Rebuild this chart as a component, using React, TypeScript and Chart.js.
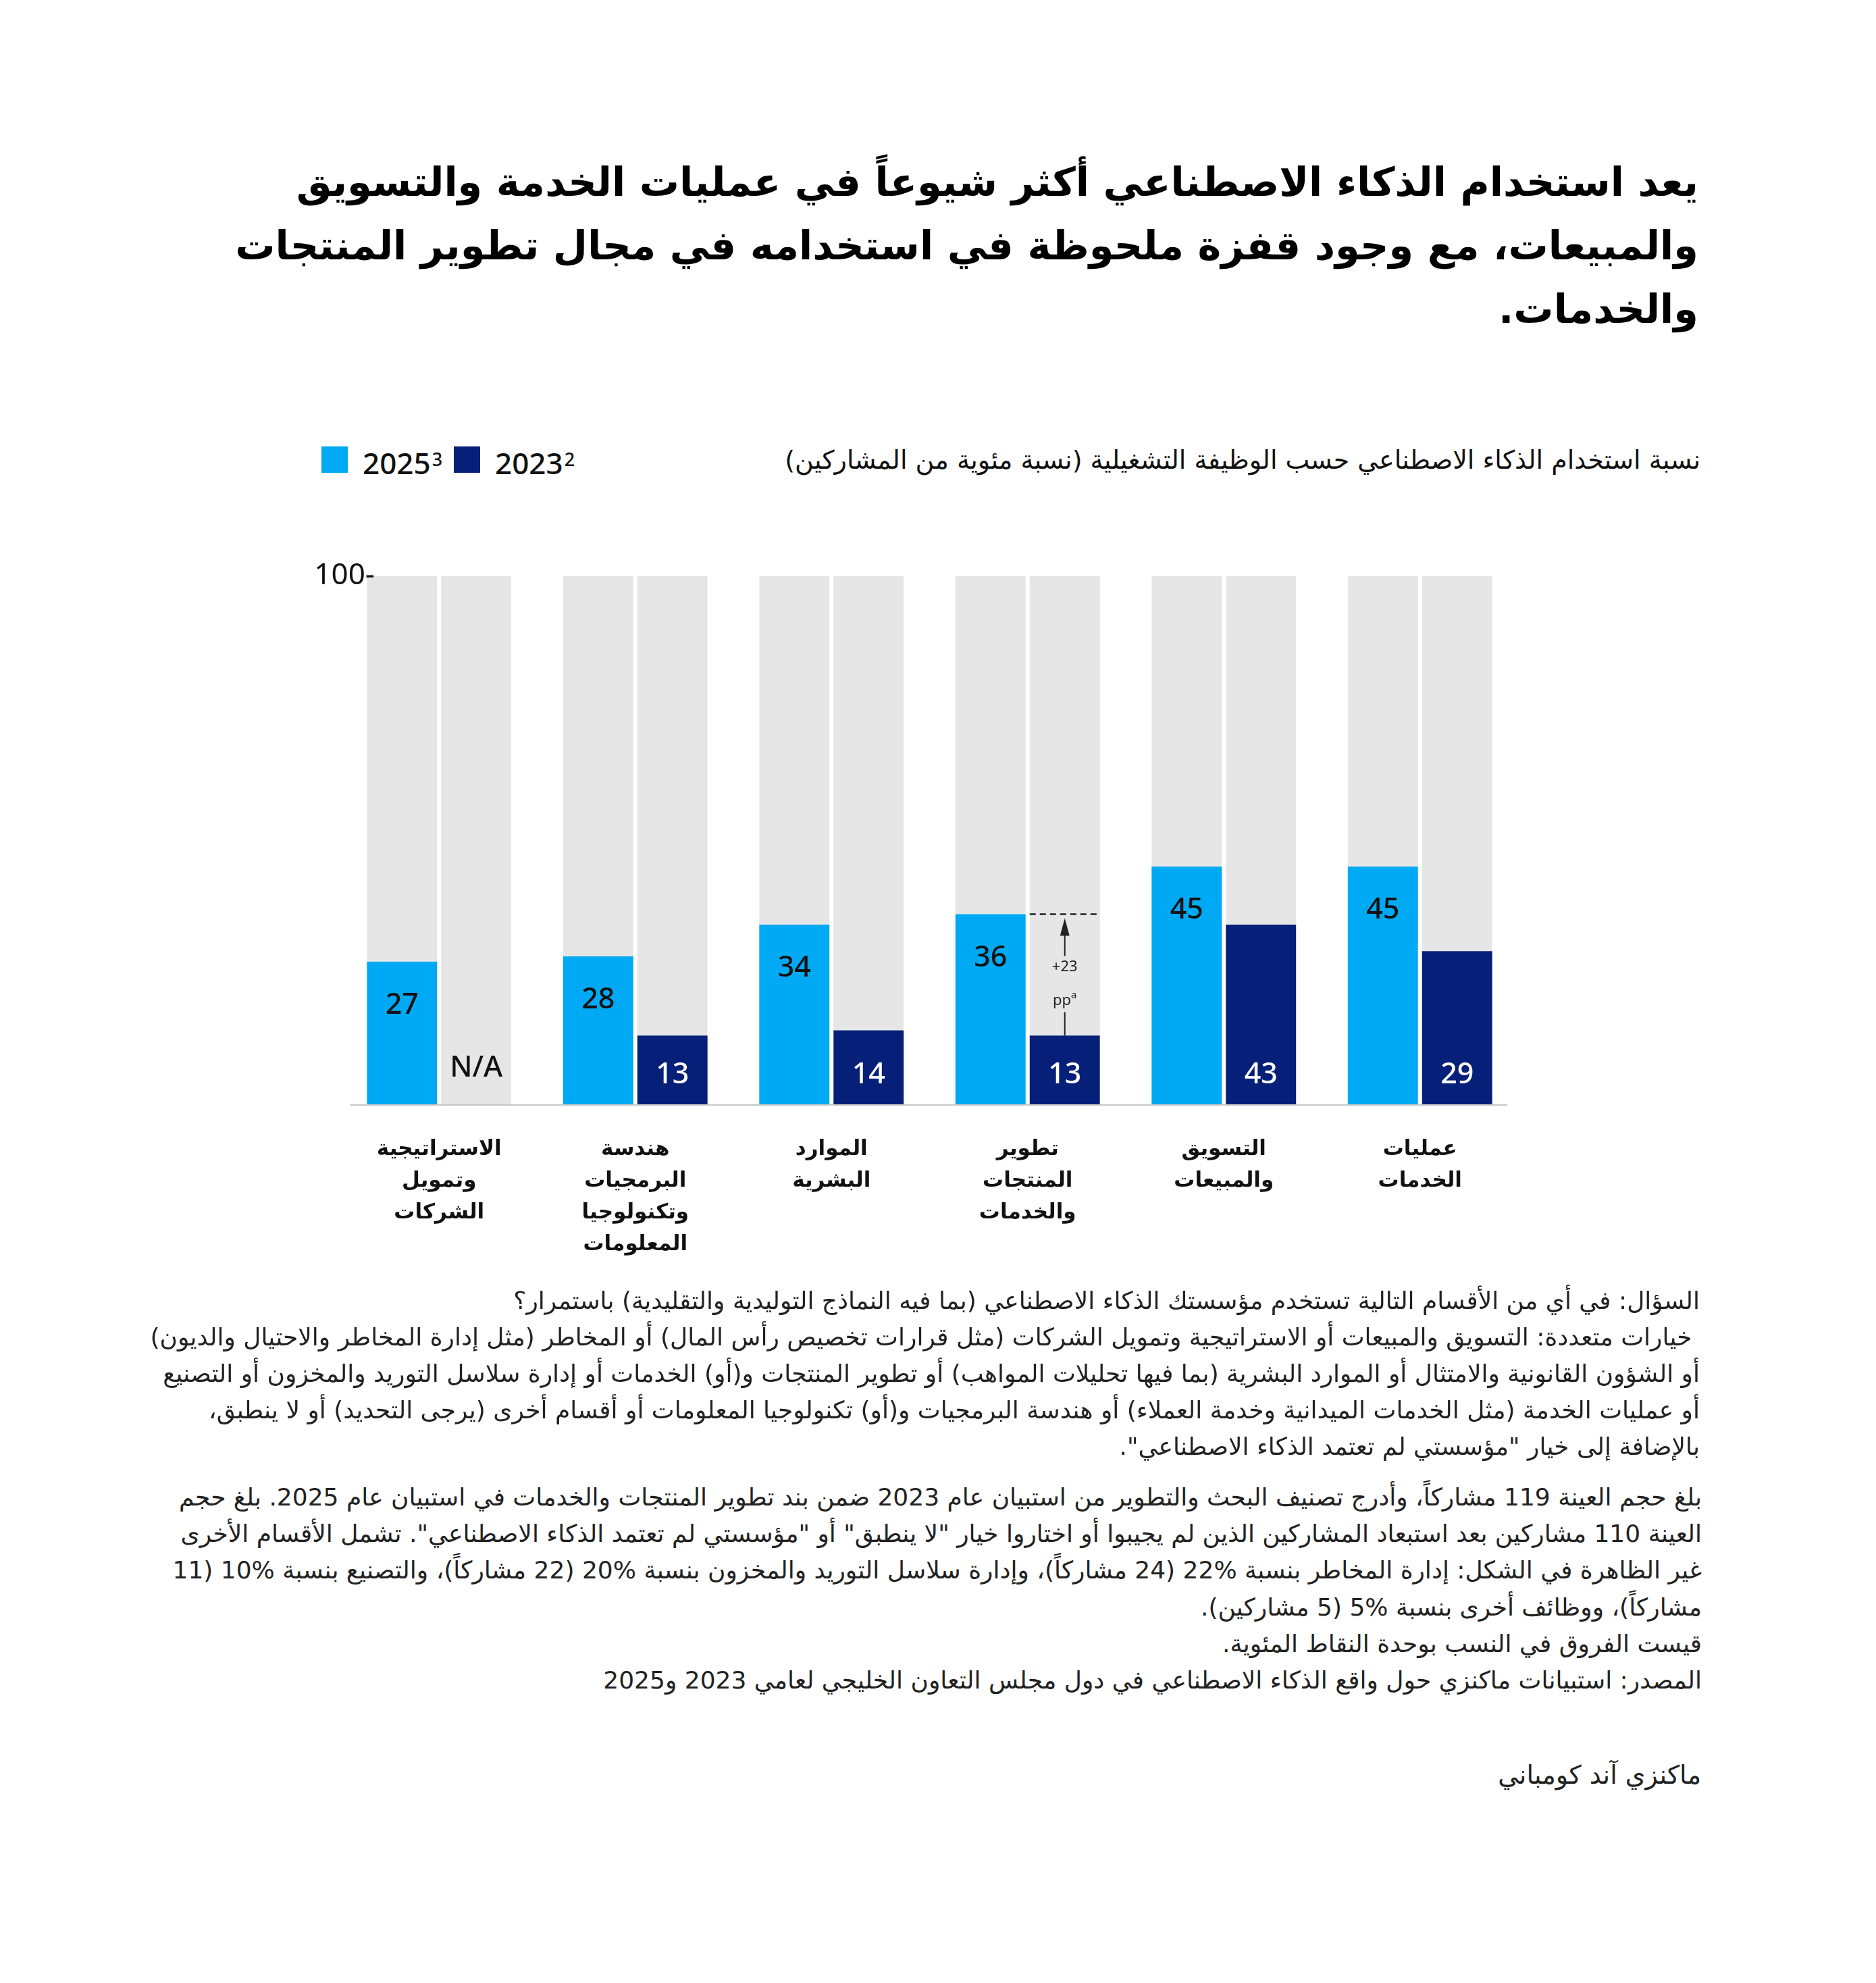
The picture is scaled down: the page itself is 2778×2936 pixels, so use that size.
import React, { useEffect, useRef } from "react";
import { Chart, registerables } from "chart.js";

Chart.register(...registerables);

// ---------- data ----------
const categories: string[][] = [
  ["الاستراتيجية", "وتمويل", "الشركات"],
  ["هندسة", "البرمجيات", "وتكنولوجيا", "المعلومات"],
  ["الموارد", "البشرية"],
  ["تطوير", "المنتجات", "والخدمات"],
  ["التسويق", "والمبيعات"],
  ["عمليات", "الخدمات"],
];
const values2025: number[] = [27, 28, 34, 36, 45, 45];
// bar heights as drawn in the reference (2023)
const values2023: (number | null)[] = [null, 13, 14, 13, 34, 29];
// value labels as printed in the reference (2023)
const labels2023: string[] = ["N/A", "13", "14", "13", "43", "29"];
const yMax = 100;
const yTicks: number[] = [100];
const highlightIndex = 3;
const seriesNames = ["2025", "2023"];
const seriesSup = ["3", "2"];

const titleLines = [
  "يعد استخدام الذكاء الاصطناعي أكثر شيوعاً في عمليات الخدمة والتسويق",
  "والمبيعات، مع وجود قفزة ملحوظة في استخدامه في مجال تطوير المنتجات",
  "والخدمات.",
];
const subtitle =
  "نسبة استخدام الذكاء الاصطناعي حسب الوظيفة التشغيلية (نسبة مئوية من المشاركين)";
const questionLines = [
  "السؤال: في أي من الأقسام التالية تستخدم مؤسستك الذكاء الاصطناعي (بما فيه النماذج التوليدية والتقليدية) باستمرار؟",
  " خيارات متعددة: التسويق والمبيعات أو الاستراتيجية وتمويل الشركات (مثل قرارات تخصيص رأس المال) أو المخاطر (مثل إدارة المخاطر والاحتيال والديون)",
  "أو الشؤون القانونية والامتثال أو الموارد البشرية (بما فيها تحليلات المواهب) أو تطوير المنتجات و(أو) الخدمات أو إدارة سلاسل التوريد والمخزون أو التصنيع",
  "أو عمليات الخدمة (مثل الخدمات الميدانية وخدمة العملاء) أو هندسة البرمجيات و(أو) تكنولوجيا المعلومات أو أقسام أخرى (يرجى التحديد) أو لا ينطبق،",
  "بالإضافة إلى خيار \"مؤسستي لم تعتمد الذكاء الاصطناعي\".",
];
const noteLines = [
  "بلغ حجم العينة 119 مشاركاً، وأدرج تصنيف البحث والتطوير من استبيان عام 2023 ضمن بند تطوير المنتجات والخدمات في استبيان عام 2025. بلغ حجم",
  "العينة 110 مشاركين بعد استبعاد المشاركين الذين لم يجيبوا أو اختاروا خيار \"لا ينطبق\" أو \"مؤسستي لم تعتمد الذكاء الاصطناعي\". تشمل الأقسام الأخرى",
  "غير الظاهرة في الشكل: إدارة المخاطر بنسبة %22 (24 مشاركاً)، وإدارة سلاسل التوريد والمخزون بنسبة %20 (22 مشاركاً)، والتصنيع بنسبة %10 (11",
  "مشاركاً)، ووظائف أخرى بنسبة %5 (5 مشاركين).",
  "قيست الفروق في النسب بوحدة النقاط المئوية.",
  "المصدر: استبيانات ماكنزي حول واقع الذكاء الاصطناعي في دول مجلس التعاون الخليجي لعامي 2023 و2025",
];
const brand = "ماكنزي آند كومباني";

// ---------- style ----------
const C25 = "#00a9f4";
const C23 = "#061f79";
const CGRAY = "#e6e6e6";
const AR = '"DejaVu Sans", sans-serif';
const LAT = '"Noto Sans", "DejaVu Sans", sans-serif';

const overlayPlugin = {
  id: "overlay",
  afterDatasetsDraw(chart: any) {
    const ctx: CanvasRenderingContext2D = chart.ctx;
    const y = chart.scales.y;
    const area = chart.chartArea;
    const base = y.getPixelForValue(0);
    ctx.save();
    // baseline
    ctx.strokeStyle = "#c8c8c8";
    ctx.lineWidth = 2;
    ctx.beginPath();
    ctx.moveTo(area.left + 13, base + 1);
    ctx.lineTo(area.right - 16, base + 1);
    ctx.stroke();

    // y tick label
    ctx.fillStyle = "#111";
    ctx.font = `400 44px ${LAT}`;
    ctx.textAlign = "right";
    ctx.textBaseline = "alphabetic";
    yTicks.forEach((t) => ctx.fillText(`${t}-`, area.left + 50, y.getPixelForValue(t) + 12));

    // value labels
    ctx.textAlign = "center";
    ctx.textBaseline = "middle";
    ctx.font = `500 43px ${LAT}`;
    const m25 = chart.getDatasetMeta(0);
    const m23r = chart.getDatasetMeta(3);
    m25.data.forEach((el: any, i: number) => {
      ctx.fillStyle = "#111";
      ctx.fillText(String(values2025[i]), el.x, el.y + 65);
    });
    m23r.data.forEach((el: any, i: number) => {
      const v = values2023[i];
      ctx.fillStyle = v == null ? "#111" : "#fff";
      ctx.fillText(labels2023[i], el.x, base - (v == null ? 53 : 43));
    });

    // highlight annotation
    const h = highlightIndex;
    const el = m23r.data[h];
    const v25 = values2025[h];
    const v23 = values2023[h] as number;
    const yTop = y.getPixelForValue(v25);
    const yBot = y.getPixelForValue(v23);
    const x = el.x;
    const w = el.width;
    ctx.strokeStyle = "#222";
    ctx.fillStyle = "#222";
    ctx.lineWidth = 2.5;
    ctx.setLineDash([9, 6]);
    ctx.beginPath();
    ctx.moveTo(x - w / 2, yTop);
    ctx.lineTo(x + w / 2, yTop);
    ctx.stroke();
    ctx.setLineDash([]);
    ctx.lineWidth = 2;
    // arrow head
    ctx.beginPath();
    ctx.moveTo(x, yTop + 6);
    ctx.lineTo(x - 7, yTop + 32);
    ctx.lineTo(x + 7, yTop + 32);
    ctx.closePath();
    ctx.fill();
    ctx.beginPath();
    ctx.moveTo(x, yTop + 30);
    ctx.lineTo(x, yTop + 62);
    ctx.stroke();
    ctx.beginPath();
    ctx.moveTo(x, yTop + 145);
    ctx.lineTo(x, yBot);
    ctx.stroke();
    ctx.font = `400 22px ${LAT}`;
    ctx.textBaseline = "middle";
    ctx.fillText(`+${v25 - v23}`, x, yTop + 78);
    // "pp" with superscript a
    const ppW = ctx.measureText("pp").width;
    ctx.font = `400 15px ${LAT}`;
    const aW = ctx.measureText("a").width;
    const startX = x - (ppW + aW) / 2;
    ctx.textAlign = "left";
    ctx.font = `400 22px ${LAT}`;
    ctx.fillText("pp", startX, yTop + 128);
    ctx.font = `400 15px ${LAT}`;
    ctx.fillText("a", startX + ppW, yTop + 120);
    ctx.restore();
  },
};

function ChartCanvas() {
  const ref = useRef<HTMLCanvasElement | null>(null);
  useEffect(() => {
    if (!ref.current) return;
    const rem25 = values2025.map((v) => yMax - v);
    const rem23 = values2023.map((v) => yMax - (v ?? 0));
    const chart = new Chart(ref.current, {
      type: "bar",
      data: {
        labels: categories,
        datasets: [
          { label: seriesNames[0], data: values2025, backgroundColor: C25, stack: "s25" },
          { label: "rest25", data: rem25, backgroundColor: CGRAY, stack: "s25" },
          { label: seriesNames[1], data: values2023 as any, backgroundColor: C23, stack: "s23" },
          { label: "rest23", data: rem23, backgroundColor: CGRAY, stack: "s23" },
        ],
      },
      options: {
        responsive: false,
        animation: false,
        devicePixelRatio: 1,
        layout: { padding: { left: 69, right: 88, top: 60, bottom: 68 } },
        datasets: { bar: { categoryPercentage: 0.757, barPercentage: 0.945 } },
        plugins: { legend: { display: false }, tooltip: { enabled: false } },
        scales: {
          x: {
            stacked: true,
            grid: { display: false, drawTicks: false },
            border: { display: false },
            ticks: {
              padding: 43.5,
              color: "#111",
              maxRotation: 0,
              autoSkip: false,
              font: { family: AR, size: 31, weight: "bold", lineHeight: 47 / 31 },
            },
            afterFit: (s: any) => {
              s.height = 240;
            },
          },
          y: {
            display: false,
            stacked: true,
            min: 0,
            max: yMax,
          },
        },
      },
      plugins: [overlayPlugin],
    } as any);
    return () => chart.destroy();
  }, []);
  return (
    <canvas
      ref={ref}
      width={1900}
      height={1150}
      style={{ position: "absolute", left: 436, top: 793, width: 1900, height: 1150 }}
    />
  );
}

export default function App() {
  const textBase: React.CSSProperties = {
    position: "absolute",
    direction: "rtl",
    textAlign: "right",
    whiteSpace: "pre",
    color: "#111",
    fontFamily: AR,
  };
  const legendText: React.CSSProperties = {
    position: "absolute",
    top: 655,
    fontFamily: LAT,
    fontSize: 44,
    fontWeight: 500,
    lineHeight: "50px",
    color: "#111",
    whiteSpace: "nowrap",
  };
  const supStyle: React.CSSProperties = { fontSize: 27, verticalAlign: "12px", marginLeft: 2 };
  return (
    <div
      style={{
        position: "absolute",
        left: 0,
        top: 0,
        width: 2778,
        height: 2936,
        background: "#fff",
        overflow: "hidden",
      }}
    >
      <div style={{ ...textBase, right: 263, top: 223, fontSize: 59, lineHeight: "94px", fontWeight: 700, color: "#000" }}>
        {titleLines.map((l, i) => (
          <div key={i}>{l}</div>
        ))}
      </div>

      <div style={{ ...textBase, right: 260, top: 656, fontSize: 38, lineHeight: "50px" }}>{subtitle}</div>

      {/* legend */}
      <div style={{ position: "absolute", left: 476, top: 661, width: 39, height: 39, background: C25 }} />
      <div style={{ ...legendText, left: 537 }}>
        {seriesNames[0]}
        <span style={supStyle}>{seriesSup[0]}</span>
      </div>
      <div style={{ position: "absolute", left: 672, top: 661, width: 39, height: 39, background: C23 }} />
      <div style={{ ...legendText, left: 733 }}>
        {seriesNames[1]}
        <span style={supStyle}>{seriesSup[1]}</span>
      </div>

      <ChartCanvas />

      <div style={{ ...textBase, right: 261, top: 1899, fontSize: 36, lineHeight: "54px", color: "#222" }}>
        {questionLines.map((l, i) => (
          <div key={i}>{l}</div>
        ))}
      </div>
      <div style={{ ...textBase, right: 258, top: 2190, fontSize: 36, lineHeight: "54.2px", color: "#222" }}>
        {noteLines.map((l, i) => (
          <div key={i}>{l}</div>
        ))}
      </div>
      <div style={{ ...textBase, right: 259, top: 2601, fontSize: 38, lineHeight: "54px", color: "#222" }}>{brand}</div>
    </div>
  );
}
